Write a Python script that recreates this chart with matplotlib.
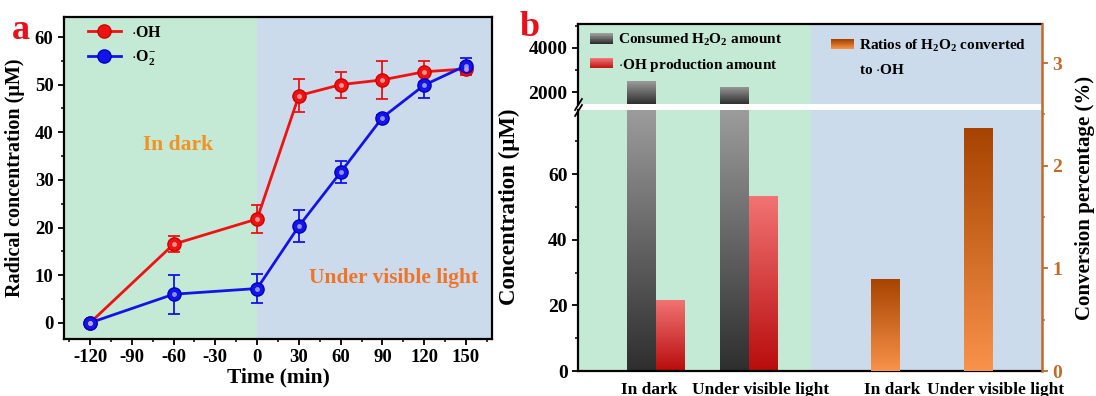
import numpy as np
import matplotlib
matplotlib.use('Agg')
import matplotlib.pyplot as plt
from matplotlib.colors import LinearSegmentedColormap, to_rgb
from matplotlib.legend_handler import HandlerBase
from matplotlib.patches import Rectangle
from matplotlib.ticker import MultipleLocator

plt.rcParams['font.family'] = ['Liberation Serif', 'DejaVu Serif']
plt.rcParams['font.weight'] = 'bold'
plt.rcParams['axes.labelweight'] = 'bold'
plt.rcParams['axes.unicode_minus'] = False
plt.rcParams['mathtext.fontset'] = 'custom'
plt.rcParams['mathtext.rm'] = 'Liberation Serif:bold'
plt.rcParams['mathtext.it'] = 'Liberation Serif:bold'
plt.rcParams['mathtext.bf'] = 'Liberation Serif:bold'
plt.rcParams['mathtext.default'] = 'rm'

# ---- panel a data
time_min = [-120, -60, 0, 30, 60, 90, 120, 150]
oh_conc = [0, 16.5, 21.8, 47.7, 50.0, 51.0, 52.7, 53.3]
oh_err = [0, 1.7, 2.9, 3.5, 2.7, 4.0, 2.2, 1.3]
o2_conc = [0, 6.0, 7.2, 20.3, 31.6, 43.1, 49.9, 54.0]
o2_err = [0, 4.1, 3.1, 3.3, 2.3, 0.5, 2.6, 1.6]

# ---- panel b data
groups = ['In dark', 'Under visible light']
h2o2_consumed = [2500, 2240]
oh_produced = [21.8, 53.5]
ratio_pct = [0.90, 2.37]

GREEN = '#c4ead6'
BLUE = '#ccdbec'
ORANGE = '#c06a2c'


def grad_fill(ax, bars, c_top, c_bot):
    # paint each bar with a vertical gradient, only the visible part
    cmap = LinearSegmentedColormap.from_list('g', [c_bot, c_top])
    lo, hi = ax.get_ylim()
    g = np.linspace(0, 1, 256).reshape(-1, 1)
    for b in bars:
        x0, w = b.get_x(), b.get_width()
        y0 = max(b.get_y(), lo)
        y1 = min(b.get_y() + b.get_height(), hi)
        b.set_facecolor('none')
        b.set_edgecolor('none')
        if y1 <= y0:
            continue
        im = ax.imshow(g, extent=(x0, x0 + w, y0, y1), origin='lower',
                       cmap=cmap, aspect='auto', interpolation='bilinear', zorder=2)
        im.set_clip_path(b)


class GradHandler(HandlerBase):
    def __init__(self, c_top, c_bot, n=14):
        super().__init__()
        self.c_top = np.array(to_rgb(c_top))
        self.c_bot = np.array(to_rgb(c_bot))
        self.n = n

    def create_artists(self, legend, orig_handle, xdescent, ydescent,
                       width, height, fontsize, trans):
        arts = []
        for i in range(self.n):
            f = i / (self.n - 1)
            col = self.c_bot * (1 - f) + self.c_top * f
            r = Rectangle((-xdescent, -ydescent + height * i / self.n), width,
                          height / self.n + 0.3, facecolor=col, edgecolor='none',
                          transform=trans)
            arts.append(r)
        return arts


class EmptyHandler(HandlerBase):
    def create_artists(self, legend, orig_handle, xdescent, ydescent,
                       width, height, fontsize, trans):
        r = Rectangle((0, 0), 1, 1, visible=False, transform=trans)
        return [r]


def style_ticks(ax, size=13.5):
    ax.tick_params(which='major', direction='out', length=4, width=1.3, labelsize=size)
    ax.tick_params(which='minor', direction='out', length=2.5, width=1.1)


def bold_ticks(ax):
    for lab in ax.get_xticklabels() + ax.get_yticklabels():
        lab.set_fontweight('bold')


fig = plt.figure(figsize=(10.96, 3.96), dpi=100)
W, H = 1096.0, 396.0

# ================= panel a =================
ax = fig.add_axes([64 / W, (H - 339) / H, 428 / W, 322 / H])
ax.set_xlim(-138.7, 168.7)
ax.set_ylim(-3.4, 64.2)
ax.axvspan(-138.7, 0, color=GREEN, zorder=0, lw=0)
ax.axvspan(0, 168.7, color=BLUE, zorder=0, lw=0)

red = '#ee1212'
blue = '#1414e8'
ax.errorbar(time_min, oh_conc, yerr=oh_err, fmt='none', ecolor=red, elinewidth=1.3,
            capsize=4.5, capthick=1.3, zorder=3)
ax.errorbar(time_min, o2_conc, yerr=o2_err, fmt='none', ecolor=blue, elinewidth=1.3,
            capsize=4.5, capthick=1.3, zorder=3)
ax.plot(time_min, oh_conc, '-o', color=red, lw=2, ms=9.5, mfc=red, mec='#d00000',
        label='$\\cdot$OH', zorder=4)
ax.plot(time_min, o2_conc, '-o', color=blue, lw=2, ms=9.5, mfc=blue, mec='#0000c8',
        label='$\\cdot$O$_2^{-}$', zorder=4)
# little shine on the balls
ax.plot(time_min, oh_conc, 'o', ms=3.5, mfc='#ffb0b0', mec='none', alpha=0.8, zorder=5)
ax.plot(time_min, o2_conc, 'o', ms=3.5, mfc='#b0b0ff', mec='none', alpha=0.8, zorder=5)

ax.set_xticks([-120, -90, -60, -30, 0, 30, 60, 90, 120, 150])
ax.xaxis.set_minor_locator(MultipleLocator(15))
ax.yaxis.set_major_locator(MultipleLocator(10))
ax.yaxis.set_minor_locator(MultipleLocator(5))
style_ticks(ax, 13.5)
bold_ticks(ax)
for s in ax.spines.values():
    s.set_linewidth(1.6)
ax.set_xlabel('Time (min)', fontsize=15.5, labelpad=1)
ax.set_ylabel('Radical concentration (\u03bcM)', fontsize=14.5)
ax.yaxis.set_label_coords(-0.092, 0.5)

ax.text(-57, 37.3, 'In dark', color='#f29222', fontsize=15.5, ha='center', va='center')
ax.text(98, 9.4, 'Under visible light', color='#f07428', fontsize=15.5,
        ha='center', va='center')

la = ax.legend(loc='upper left', bbox_to_anchor=(0.055, 0.975), frameon=False,
               fontsize=11.5, handlelength=2.1, handletextpad=0.6, labelspacing=0.45,
               borderaxespad=0, borderpad=0)

fig.text(12 / W, 1 - 39 / H, 'a', color='#e8101a', fontsize=26, fontweight='bold')

# ================= panel b =================
bl, bw_ = 578 / W, 464 / W
ax_up = fig.add_axes([bl, (H - 104) / H, bw_, 80 / H])
ax_lo = fig.add_axes([bl, (H - 371) / H, bw_, 261 / H])
ax_r = fig.add_axes([bl, (H - 371) / H, bw_, 347 / H], facecolor='none')

XMAX = 16.0
x_pair = np.array([2.7, 5.9])      # centre of gray/red pairs
x_ratio = np.array([10.6, 13.8])   # orange bars
bar_w = 1.0
tick_pos = [2.45, 6.3, 10.85, 14.4]

for a, ylim in ((ax_up, (1455, 5090)), (ax_lo, (0, 79.6))):
    a.set_xlim(0, XMAX)
    a.set_ylim(*ylim)
    a.set_autoscale_on(False)
    a.axvspan(0, 8.05, color=GREEN, zorder=0, lw=0)
    a.axvspan(8.05, XMAX, color=BLUE, zorder=0, lw=0)
    gb = a.bar(x_pair - bar_w / 2, h2o2_consumed, width=bar_w, zorder=2)
    rb = a.bar(x_pair + bar_w / 2, oh_produced, width=bar_w, zorder=2)
    grad_fill(a, gb, '#9c9c9c', '#2e2e2e')
    grad_fill(a, rb, '#f27474', '#b80c0c')
    a.set_xlim(0, XMAX)
    a.set_ylim(*ylim)
    a.spines['right'].set_visible(False)
    for s in a.spines.values():
        s.set_linewidth(1.6)
    style_ticks(a, 14)

ax_up.spines['bottom'].set_visible(False)
ax_up.tick_params(axis='x', which='both', bottom=False, labelbottom=False)
ax_up.yaxis.set_major_locator(MultipleLocator(2000))
ax_up.yaxis.set_minor_locator(MultipleLocator(1000))
bold_ticks(ax_up)

ax_lo.spines['top'].set_visible(False)
ax_lo.yaxis.set_major_locator(MultipleLocator(20))
ax_lo.yaxis.set_minor_locator(MultipleLocator(10))
ax_lo.set_xticks(tick_pos)
ax_lo.set_xticklabels(groups + groups)
ax_lo.tick_params(axis='x', which='both', length=0, pad=8, labelsize=12.5)
bold_ticks(ax_lo)
ax_lo.set_ylabel('Concentration (\u03bcM)', fontsize=16.5)
ax_lo.yaxis.set_label_coords(-0.125, 0.63)

# right axis: conversion ratio
ax_r.set_xlim(0, XMAX)
ax_r.set_ylim(0, 3.38)
ax_r.set_autoscale_on(False)
ob = ax_r.bar(x_ratio, ratio_pct, width=bar_w, zorder=2)
grad_fill(ax_r, ob, '#a64300', '#f9924a')
ax_r.set_xlim(0, XMAX)
ax_r.set_ylim(0, 3.38)
for k in ('left', 'top', 'bottom'):
    ax_r.spines[k].set_visible(False)
ax_r.spines['right'].set_color(ORANGE)
ax_r.spines['right'].set_linewidth(1.8)
ax_r.xaxis.set_visible(False)
ax_r.yaxis.tick_right()
ax_r.yaxis.set_label_position('right')
ax_r.yaxis.set_major_locator(MultipleLocator(1))
ax_r.yaxis.set_minor_locator(MultipleLocator(0.5))
style_ticks(ax_r, 14)
ax_r.tick_params(axis='y', which='both', colors=ORANGE)
bold_ticks(ax_r)
ax_r.set_ylabel('Conversion percentage (%)', fontsize=15)
ax_r.yaxis.set_label_coords(1.072, 0.5)

# axis break marks on the left spine
brk = dict(marker=[(-1, -1.6), (1, 1.6)], markersize=9, linestyle='none',
           color='k', mec='k', mew=1.3, clip_on=False)
ax_up.plot([0], [0], transform=ax_up.transAxes, **brk)
ax_lo.plot([0], [1], transform=ax_lo.transAxes, **brk)

# legends
h_gray, h_red, h_or, h_none = Rectangle((0, 0), 1, 1), Rectangle((0, 0), 1, 1), \
    Rectangle((0, 0), 1, 1), Rectangle((0, 0), 1, 1)
lb1 = ax_up.legend([h_gray, h_red],
                   ['Consumed H$_2$O$_2$ amount', '$\\cdot$OH production amount'],
                   handler_map={h_gray: GradHandler('#9c9c9c', '#2e2e2e'),
                                h_red: GradHandler('#f27474', '#c01010')},
                   loc='upper left', bbox_to_anchor=(0.025, 0.9), frameon=False,
                   fontsize=11, handlelength=1.5, handleheight=0.65,
                   handletextpad=0.35, labelspacing=0.55, borderaxespad=0, borderpad=0)
lb2 = ax_up.legend([h_or, h_none], ['Ratios of H$_2$O$_2$ converted', 'to $\\cdot$OH'],
                   handler_map={h_or: GradHandler('#a64300', '#f9924a'),
                                h_none: EmptyHandler()},
                   loc='upper left', bbox_to_anchor=(0.545, 0.83), frameon=False,
                   fontsize=11, handlelength=1.5, handleheight=0.65,
                   handletextpad=0.35, labelspacing=0.6, borderaxespad=0, borderpad=0)
ax_up.add_artist(lb1)

fig.text(520 / W, 1 - 36 / H, 'b', color='#e8101a', fontsize=26, fontweight='bold')

fig.savefig('out.png', dpi=100)
